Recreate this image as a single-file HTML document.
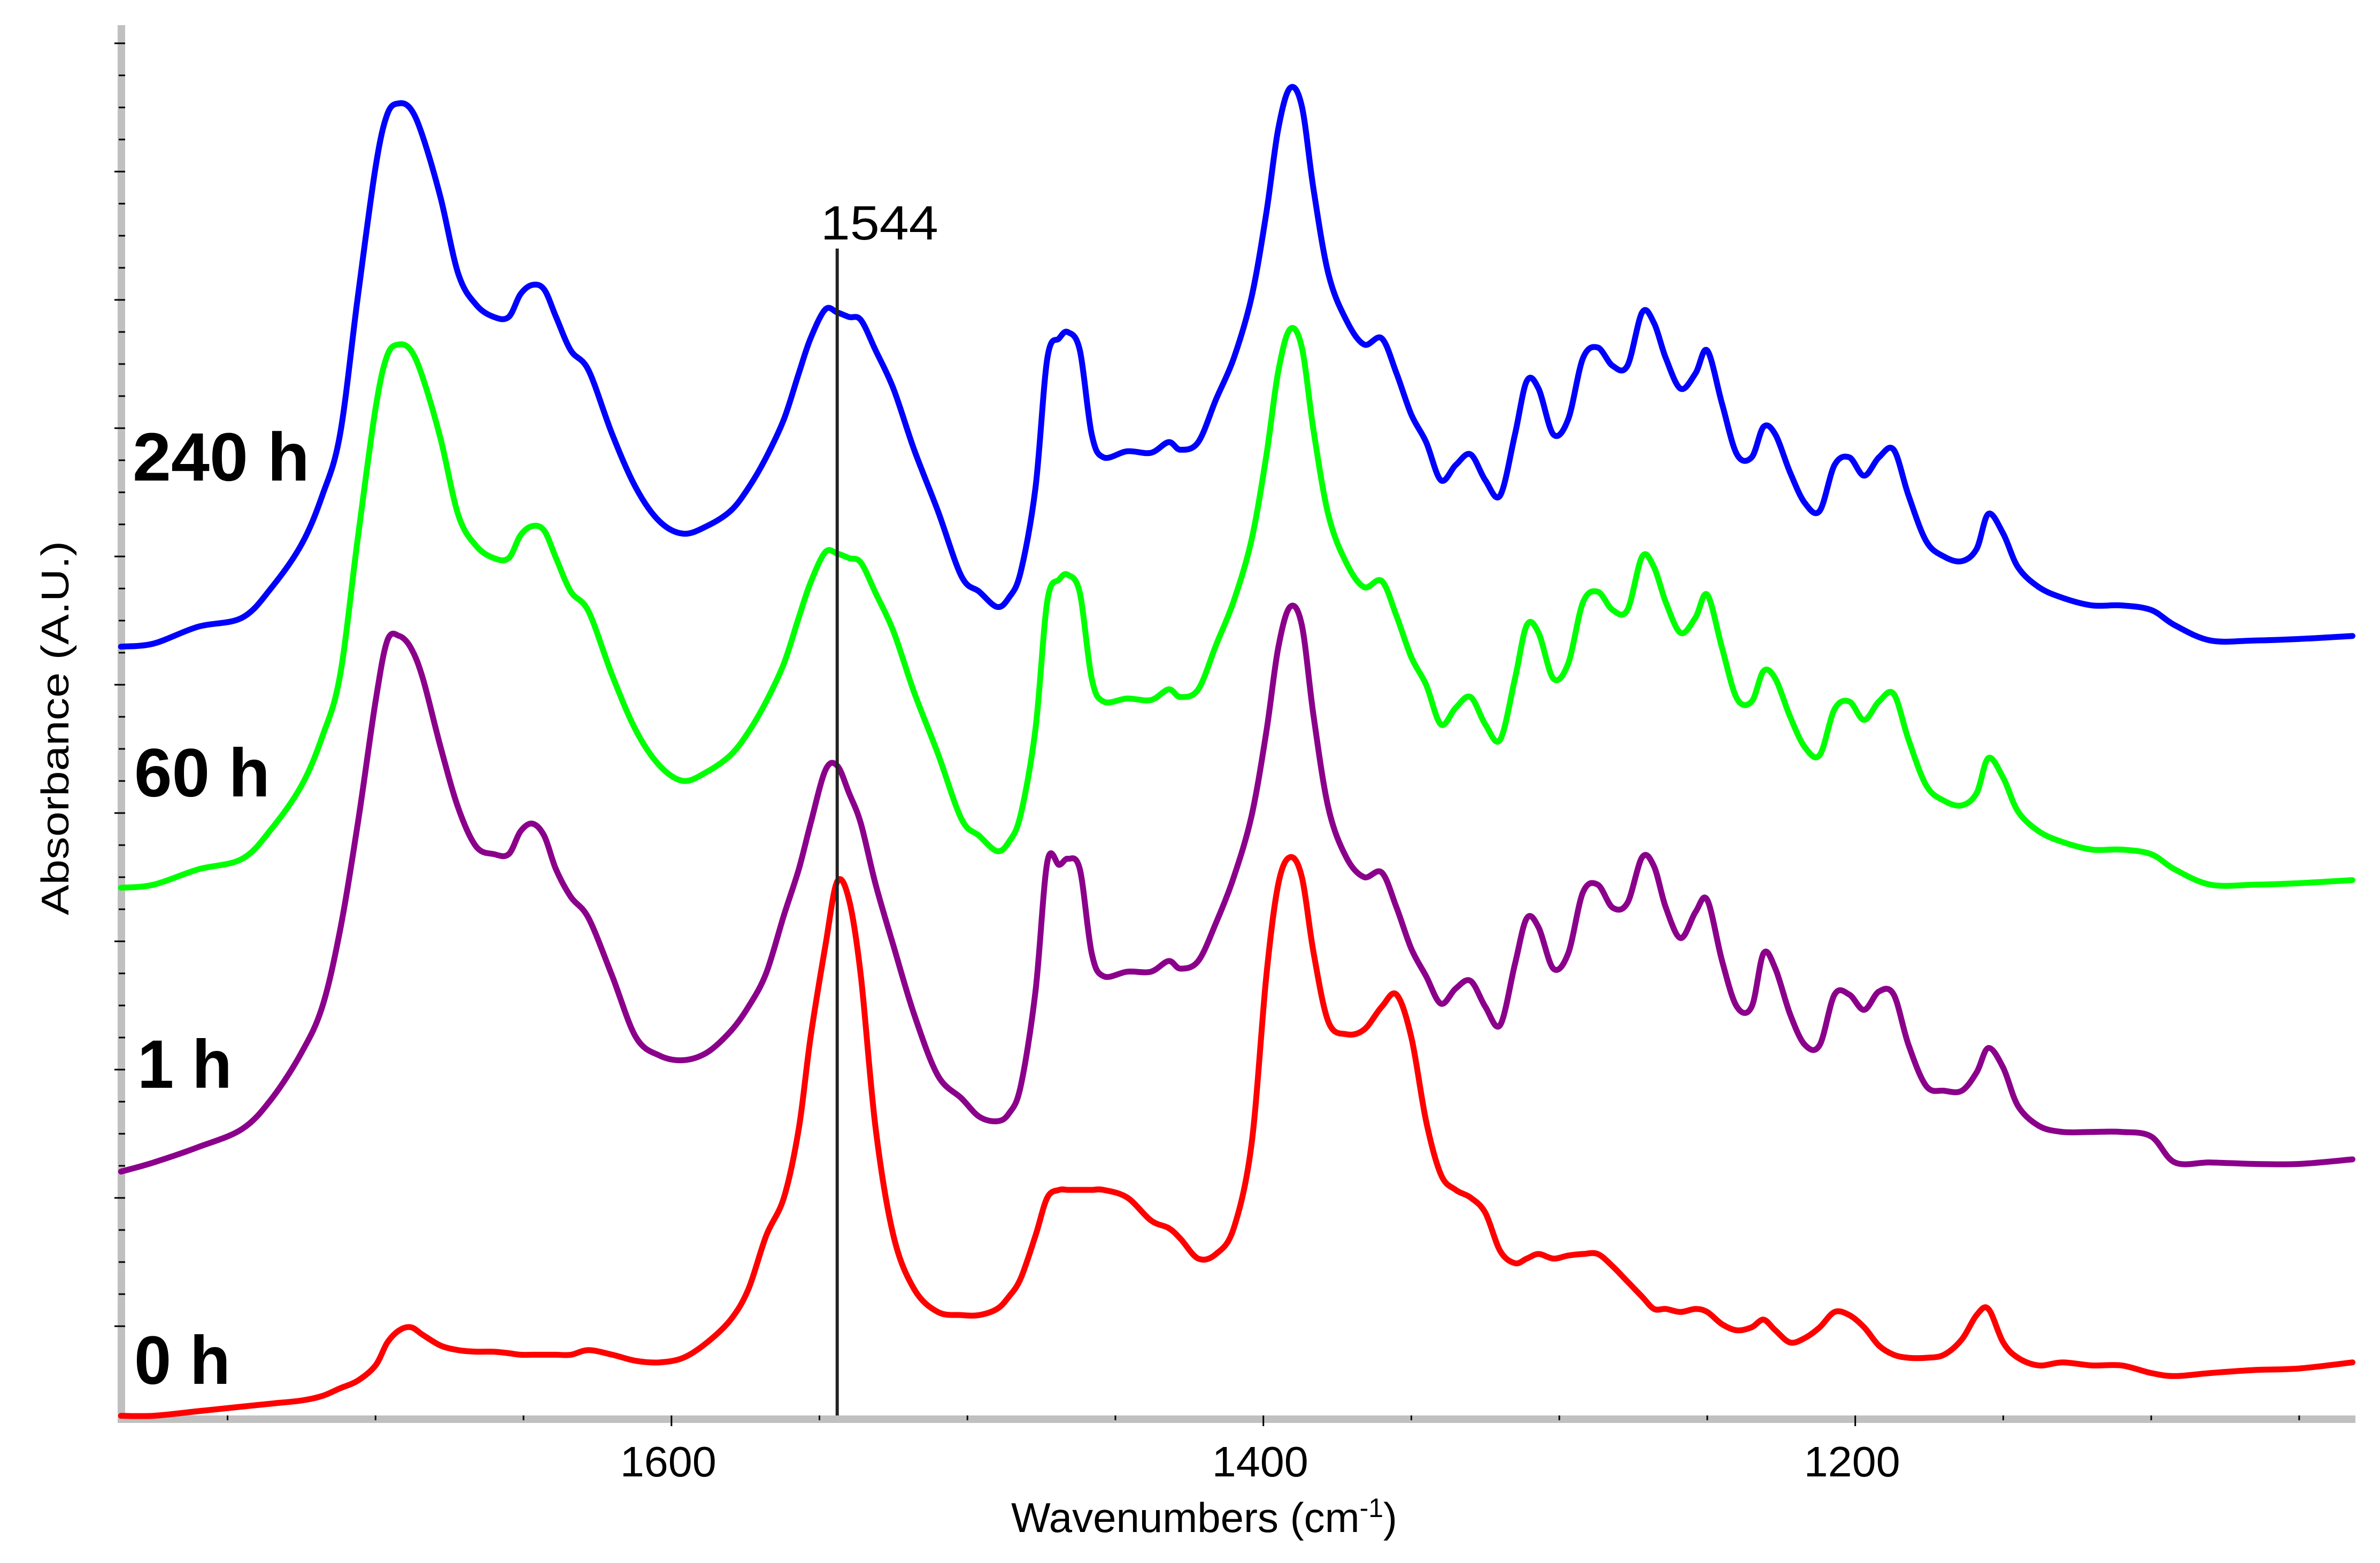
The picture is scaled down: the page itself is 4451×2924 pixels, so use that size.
<!DOCTYPE html>
<html><head><meta charset="utf-8"><style>
html,body{margin:0;padding:0;background:#fff;}
svg{display:block;}
text{font-family:"Liberation Sans",sans-serif;}
</style></head>
<body>
<svg id="chart" width="4451" height="2924" viewBox="0 0 4451 2924" xmlns="http://www.w3.org/2000/svg">
<g id="axes"></g>
<g id="series"></g>
<g id="labels"></g>
</svg>
<script>
const wavenumbers = [1786,1775,1760,1745,1735,1725,1718,1712,1706,1700,1696,1692,1688,1684,1678,1672,1666,1660,1655,1651,1647,1643,1639,1634,1628,1620,1612,1604,1596,1588,1580,1574,1568,1562,1557,1553,1548,1544,1540,1536,1531,1525,1518,1510,1502,1496,1490,1486,1482,1477,1473,1469,1466,1462,1458,1454,1446,1438,1432,1428,1422,1416,1410,1404,1399,1395,1391,1387,1383,1378,1372,1366,1360,1355,1350,1345,1340,1335,1330,1325,1320,1315,1311,1307,1302,1297,1292,1287,1282,1277,1272,1268,1264,1259,1254,1250,1245,1240,1235,1231,1227,1222,1217,1212,1207,1202,1197,1192,1187,1182,1176,1170,1164,1159,1155,1150,1145,1138,1130,1120,1110,1100,1092,1080,1065,1050,1032];
const abs240h = [5.08,5.10,5.21,5.27,5.47,5.75,6.07,6.47,7.37,8.22,8.57,8.64,8.60,8.42,8.02,7.52,7.32,7.24,7.24,7.39,7.45,7.42,7.24,7.02,6.89,6.47,6.12,5.90,5.82,5.87,5.97,6.12,6.32,6.57,6.87,7.10,7.29,7.27,7.24,7.22,7.02,6.77,6.37,5.97,5.54,5.44,5.34,5.40,5.57,6.12,6.97,7.10,7.14,7.02,6.47,6.32,6.36,6.35,6.42,6.37,6.42,6.70,6.97,7.37,7.92,8.47,8.74,8.62,8.07,7.52,7.22,7.06,7.10,6.87,6.60,6.42,6.17,6.27,6.34,6.17,6.07,6.47,6.82,6.77,6.47,6.57,6.97,7.04,6.92,6.92,7.27,7.20,6.97,6.77,6.87,7.02,6.67,6.34,6.32,6.52,6.47,6.22,6.02,5.97,6.27,6.32,6.20,6.32,6.37,6.07,5.77,5.67,5.64,5.72,5.95,5.82,5.60,5.47,5.40,5.35,5.35,5.32,5.22,5.12,5.12,5.13,5.15];
const abs60h = [3.50,3.52,3.62,3.69,3.89,4.17,4.49,4.89,5.79,6.64,6.99,7.06,7.02,6.84,6.44,5.94,5.74,5.66,5.66,5.81,5.87,5.84,5.66,5.44,5.31,4.89,4.53,4.30,4.20,4.26,4.37,4.52,4.72,4.97,5.27,5.50,5.70,5.69,5.66,5.63,5.43,5.18,4.78,4.38,3.95,3.84,3.74,3.80,3.98,4.54,5.38,5.52,5.55,5.43,4.87,4.72,4.74,4.73,4.80,4.75,4.80,5.09,5.38,5.78,6.33,6.88,7.16,7.04,6.49,5.94,5.63,5.47,5.51,5.28,5.01,4.83,4.57,4.68,4.75,4.57,4.47,4.87,5.22,5.17,4.87,4.97,5.37,5.44,5.32,5.32,5.67,5.60,5.37,5.17,5.27,5.42,5.07,4.74,4.72,4.92,4.87,4.62,4.42,4.37,4.67,4.72,4.60,4.72,4.77,4.47,4.17,4.07,4.04,4.12,4.35,4.22,4.00,3.87,3.80,3.75,3.75,3.72,3.62,3.52,3.52,3.53,3.55];
const abs1h = [1.64,1.70,1.80,1.92,2.12,2.42,2.72,3.22,3.92,4.72,5.12,5.15,5.07,4.87,4.42,4.02,3.77,3.72,3.72,3.87,3.92,3.84,3.62,3.44,3.30,2.92,2.52,2.40,2.37,2.42,2.56,2.72,2.94,3.32,3.62,3.92,4.27,4.30,4.12,3.92,3.52,3.12,2.67,2.27,2.12,2.00,1.97,2.02,2.20,2.82,3.67,3.65,3.69,3.62,3.07,2.92,2.95,2.95,3.02,2.97,3.02,3.27,3.57,3.97,4.52,5.07,5.34,5.22,4.62,4.02,3.70,3.57,3.60,3.37,3.10,2.92,2.74,2.84,2.89,2.72,2.60,3.00,3.30,3.24,2.97,3.07,3.47,3.52,3.37,3.40,3.70,3.64,3.37,3.17,3.34,3.42,3.02,2.72,2.72,3.07,2.97,2.67,2.47,2.47,2.80,2.80,2.70,2.82,2.80,2.47,2.20,2.17,2.17,2.29,2.45,2.32,2.07,1.94,1.90,1.90,1.90,1.87,1.70,1.70,1.69,1.69,1.72];
const abs0h = [0.04,0.04,0.07,0.10,0.12,0.14,0.17,0.22,0.27,0.37,0.52,0.60,0.62,0.57,0.50,0.47,0.46,0.46,0.45,0.44,0.44,0.44,0.44,0.44,0.47,0.44,0.40,0.39,0.42,0.52,0.67,0.87,1.22,1.47,1.92,2.52,3.12,3.54,3.42,2.92,1.92,1.22,0.87,0.72,0.70,0.70,0.74,0.82,0.94,1.22,1.47,1.52,1.52,1.52,1.52,1.52,1.47,1.32,1.27,1.20,1.07,1.10,1.27,1.82,2.92,3.52,3.70,3.57,3.07,2.62,2.54,2.57,2.72,2.80,2.52,1.97,1.62,1.52,1.47,1.37,1.12,1.04,1.07,1.10,1.07,1.09,1.10,1.10,1.02,0.92,0.82,0.74,0.74,0.72,0.74,0.72,0.64,0.60,0.62,0.67,0.60,0.52,0.55,0.62,0.72,0.70,0.62,0.50,0.44,0.42,0.42,0.44,0.54,0.70,0.74,0.52,0.42,0.37,0.39,0.37,0.37,0.32,0.30,0.32,0.34,0.35,0.39];
const xTickValues = [1600,1400,1200];
const xTickLabels = ["1600","1400","1200"];
const markerWavenumber = 1544;
const seriesNames = ["240 h","60 h","1 h","0 h"];

const NS = "http://www.w3.org/2000/svg";
const X0 = 223, X1 = 4405, W0 = 1786.6, W1 = 1031;
const Y0 = 2660, YPER = 285.5;
function xs(w){ return X0 + (W0 - w) * (X1 - X0) / (W0 - W1); }
function ys(a){ return Y0 - a * YPER; }
function mk(tag, attrs, parent){ const e = document.createElementNS(NS, tag); for (const k in attrs) e.setAttribute(k, attrs[k]); parent.appendChild(e); return e; }
function smoothPath(pts){
  let d = 'M' + pts[0][0].toFixed(1) + ' ' + pts[0][1].toFixed(1);
  for (let i = 0; i < pts.length - 1; i++) {
    const p0 = pts[Math.max(i - 1, 0)], p1 = pts[i], p2 = pts[i + 1], p3 = pts[Math.min(i + 2, pts.length - 1)];
    const c1x = p1[0] + (p2[0] - p0[0]) / 6, c1y = p1[1] + (p2[1] - p0[1]) / 6;
    const c2x = p2[0] - (p3[0] - p1[0]) / 6, c2y = p2[1] - (p3[1] - p1[1]) / 6;
    d += 'C' + c1x.toFixed(1) + ' ' + c1y.toFixed(1) + ' ' + c2x.toFixed(1) + ' ' + c2y.toFixed(1) + ' ' + p2[0].toFixed(1) + ' ' + p2[1].toFixed(1);
  }
  return d;
}

const axes = document.getElementById('axes');
const series = document.getElementById('series');
const labels = document.getElementById('labels');

let yb = mk('rect', {x:220, y:47, width:14, height:2615, fill:'#c0c0c0'}, axes);


let xb = mk('rect', {x:220, y:2648, width:X1-220, height:14, fill:'#c0c0c0'}, axes);



for (let i = 0; i <= 44; i++) {
  const y = 2481 - i * 60;
  if (y < 50) break;
  const major = (i % 4 === 0);
  const t = mk('line', {x1: major ? 214 : 222, x2: 234, y1: y, y2: y, stroke: '#000', 'stroke-width': 3}, axes);
  
  
}
for (let w = 1750; w >= 1050; w -= 50) {
  const x = xs(w);
  const major = xTickValues.indexOf(w) >= 0;
  const t = mk('line', {x1: x, x2: x, y1: 2648, y2: major ? 2668 : 2657, stroke: '#000', 'stroke-width': 3}, axes);
  
  
}
xTickValues.forEach((w, i) => {
  const t = mk('text', {x: xs(w) - 6, y: 2762, 'text-anchor': 'middle', 'font-size': 80, fill: '#000', textLength: 180, lengthAdjust: 'spacingAndGlyphs'}, axes);
  t.textContent = xTickLabels[i];
  
  
});

const xt = mk('text', {x: 2252, y: 2866, 'text-anchor': 'middle', 'font-size': 78, fill: '#000'}, labels);


xt.innerHTML = 'Wavenumbers (cm<tspan dy="-28" font-size="50">-1</tspan><tspan dy="28">)</tspan>';
const yt = mk('text', {x: 0, y: 0, 'text-anchor': 'middle', 'font-size': 72, fill: '#000', transform: 'translate(128,1362) rotate(-90)', textLength: 700, lengthAdjust: 'spacingAndGlyphs'}, labels);
yt.textContent = 'Absorbance (A.U.)';



const mx = xs(markerWavenumber);
const ml = mk('line', {x1: mx, x2: mx, y1: 465, y2: 2648, stroke: '#222', 'stroke-width': 6}, labels);


const mt = mk('text', {x: mx - 31, y: 448, 'font-size': 90, fill: '#000', textLength: 220, lengthAdjust: 'spacingAndGlyphs'}, labels);
mt.textContent = String(markerWavenumber);



const datasets = [abs0h, abs1h, abs60h, abs240h];
const colors = ['#ff0000', '#8b008b', '#00ff00', '#0000ff'];
const names = ['series-0h', 'series-1h', 'series-60h', 'series-240h'];
datasets.forEach((arr, si) => {
  const n = Math.min(arr.length, wavenumbers.length);
  const pts = [];
  for (let i = 0; i < n; i++) pts.push([xs(wavenumbers[i]), ys(arr[i])]);
  const p = mk('path', {d: smoothPath(pts), fill: 'none', stroke: colors[si], 'stroke-width': 11, 'stroke-linejoin': 'round', 'stroke-linecap': 'round'}, series);
  
  
});

const labelPos = [[248, 899, 331], [251, 1490, 254], [257, 2035, 177], [251, 2589, 180]];
seriesNames.forEach((s, i) => {
  const t = mk('text', {x: labelPos[i][0], y: labelPos[i][1], 'font-size': 128, 'font-weight': 'bold', fill: '#000', textLength: labelPos[i][2], lengthAdjust: 'spacingAndGlyphs'}, labels);
  t.textContent = s;
  
  
});
</script>
</body></html>
